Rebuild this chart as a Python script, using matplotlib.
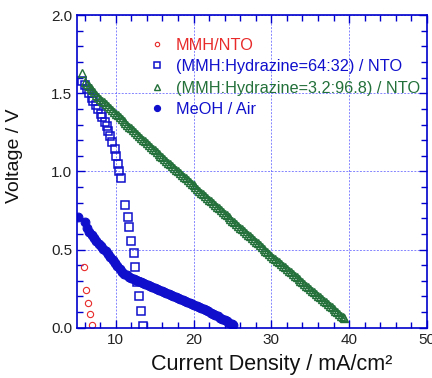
import numpy as np
import matplotlib.pyplot as plt
from matplotlib.ticker import MultipleLocator

plt.rcParams['font.family'] = ['Liberation Sans', 'DejaVu Sans']

# MMH / NTO
mmh_x = [5.94, 6.19, 6.45, 6.67, 6.96]
mmh_v = [0.388, 0.243, 0.158, 0.088, 0.015]

# (MMH:Hydrazine=64:32) / NTO
mix1_x = [5.68, 6.03, 6.32, 6.58, 6.88, 7.13, 7.44, 7.73, 8.04, 8.29, 8.59, 8.85,
          9.01, 9.31, 9.57, 9.87, 10.09, 10.30, 10.42, 10.73, 11.15, 11.58, 11.67,
          12.00, 12.35, 12.52, 12.75, 12.95, 13.20, 13.55]
mix1_v = [1.580, 1.550, 1.527, 1.500, 1.470, 1.450, 1.424, 1.397, 1.370, 1.346, 1.318, 1.290,
          1.260, 1.226, 1.190, 1.143, 1.098, 1.050, 1.000, 0.955, 0.785, 0.710, 0.642,
          0.556, 0.476, 0.390, 0.295, 0.203, 0.107, 0.013]

# (MMH:Hydrazine=3.2:96.8) / NTO
mix2_x = [5.68, 6.0, 6.25, 6.5, 6.75, 7.0, 7.25, 7.5, 7.75, 8.0, 8.25, 8.5, 8.75,
          9.0, 9.25, 9.5, 9.75, 10.0, 10.25, 10.5, 10.75, 11.0, 11.25, 11.5, 11.75,
          12.0, 12.25, 12.5, 12.75, 13.0, 13.25, 13.5, 13.75, 14.0, 14.25, 14.5, 14.75,
          15.0, 15.25, 15.5, 15.75, 16.0, 16.25, 16.5, 16.75, 17.0, 17.25, 17.5, 17.75,
          18.0, 18.25, 18.5, 18.75, 19.0, 19.25, 19.5, 19.75, 20.0, 20.25, 20.5, 20.75,
          21.0, 21.25, 21.5, 21.75, 22.0, 22.25, 22.5, 22.75, 23.0, 23.25, 23.5, 23.75,
          24.0, 24.25, 24.5, 24.75, 25.0, 25.25, 25.5, 25.75, 26.0, 26.25, 26.5, 26.75,
          27.0, 27.25, 27.5, 27.75, 28.0, 28.25, 28.5, 28.75, 29.0, 29.25, 29.5, 29.75,
          30.0, 30.25, 30.5, 30.75, 31.0, 31.25, 31.5, 31.75, 32.0, 32.25, 32.5, 32.75,
          33.0, 33.25, 33.5, 33.75, 34.0, 34.25, 34.5, 34.75, 35.0, 35.25, 35.5, 35.75,
          36.0, 36.25, 36.5, 36.75, 37.0, 37.25, 37.5, 37.75, 38.0, 38.25, 38.5, 38.75,
          39.0, 39.25, 39.4]
mix2_v = [1.630, 1.570, 1.558, 1.545, 1.533, 1.520, 1.506, 1.492, 1.479, 1.465, 1.453,
          1.441, 1.429, 1.418, 1.406, 1.394, 1.382, 1.370, 1.358, 1.346, 1.334, 1.323,
          1.311, 1.299, 1.287, 1.275, 1.263, 1.251, 1.239, 1.228, 1.216, 1.204, 1.192,
          1.180, 1.169, 1.158, 1.146, 1.135, 1.124, 1.113, 1.101, 1.090, 1.079, 1.068,
          1.056, 1.045, 1.034, 1.023, 1.011, 1.000, 0.989, 0.978, 0.966, 0.955, 0.944,
          0.933, 0.921, 0.910, 0.899, 0.888, 0.876, 0.865, 0.854, 0.843, 0.831, 0.820,
          0.809, 0.798, 0.786, 0.775, 0.764, 0.753, 0.741, 0.730, 0.719, 0.708, 0.696,
          0.685, 0.674, 0.663, 0.651, 0.640, 0.629, 0.618, 0.606, 0.595, 0.584, 0.573,
          0.561, 0.550, 0.539, 0.528, 0.516, 0.505, 0.494, 0.483, 0.471, 0.460, 0.449,
          0.439, 0.428, 0.418, 0.407, 0.396, 0.386, 0.375, 0.364, 0.354, 0.343, 0.333,
          0.322, 0.311, 0.301, 0.290, 0.279, 0.269, 0.258, 0.248, 0.237, 0.226, 0.216,
          0.205, 0.194, 0.184, 0.173, 0.163, 0.152, 0.141, 0.131, 0.120, 0.109, 0.099,
          0.088, 0.078, 0.068, 0.060]

# MeOH / Air
meoh_x = [5.2, 6.0, 6.3, 6.6, 6.9, 7.2, 7.5, 7.8, 8.1, 8.4, 8.7, 9.0, 9.3, 9.6, 9.9,
          10.2, 10.5, 10.8, 11.1, 11.4, 11.7, 12.0, 12.3, 12.6, 12.9, 13.2, 13.5,
          13.8, 14.1, 14.4, 14.7, 15.0, 15.3, 15.6, 15.9, 16.2, 16.5, 16.8, 17.1,
          17.4, 17.7, 18.0, 18.3, 18.6, 18.9, 19.2, 19.5, 19.8, 20.1, 20.4, 20.7,
          21.0, 21.3, 21.6, 21.9, 22.2, 22.5, 22.8, 23.1, 23.4, 23.7, 24.0, 24.3,
          24.6, 24.9, 25.1]
meoh_v = [0.706, 0.676, 0.640, 0.615, 0.593, 0.572, 0.553, 0.536, 0.520, 0.505, 0.489,
          0.472, 0.454, 0.435, 0.414, 0.394, 0.375, 0.359, 0.346, 0.335, 0.325, 0.317,
          0.310, 0.303, 0.297, 0.290, 0.284, 0.278, 0.272, 0.266, 0.261, 0.256, 0.249,
          0.242, 0.236, 0.230, 0.224, 0.218, 0.212, 0.205, 0.198, 0.191, 0.185, 0.179,
          0.173, 0.167, 0.160, 0.153, 0.146, 0.140, 0.134, 0.128, 0.120, 0.112, 0.104,
          0.097, 0.090, 0.083, 0.073, 0.065, 0.057, 0.048, 0.040, 0.030, 0.022, 0.015]

red = '#e82a2a'
blue = '#1010cc'
green = '#23703a'
axcol = '#0000cc'

fig = plt.figure(figsize=(4.32, 3.78), dpi=100)
ax = fig.add_axes([0.178, 0.133, 0.81, 0.827])

ax.plot(mmh_x, mmh_v, 'o', mfc='none', mec=red, ms=4.5, mew=0.8, label='MMH/NTO')
ax.plot(mix1_x, mix1_v, 's', mfc='none', mec=blue, ms=5.8, mew=1.1,
        label='(MMH:Hydrazine=64:32) / NTO')
ax.plot(mix2_x, mix2_v, '^', mfc='none', mec=green, ms=5.2, mew=1.0,
        label='(MMH:Hydrazine=3.2:96.8) / NTO')
ax.plot(meoh_x, meoh_v, 'o', mfc=blue, mec=blue, ms=6.3, mew=0.8, label='MeOH / Air')

ax.set_xlim(5, 50)
ax.set_ylim(0, 2.0)
ax.xaxis.set_minor_locator(MultipleLocator(2))
ax.yaxis.set_minor_locator(MultipleLocator(0.1))
ax.set_yticks([0, 0.5, 1.0, 1.5, 2.0])
ax.set_yticklabels(['0.0', '0.5', '1.0', '1.5', '2.0'])
ax.set_xticks([10, 20, 30, 40, 50])

ax.grid(True, which='major', color='#5050ff', linestyle=(0, (2, 1.5)), lw=0.7, alpha=0.7)
for s in ax.spines.values():
    s.set_color(axcol)
    s.set_linewidth(1.2)
ax.tick_params(which='both', direction='in', top=True, right=True, color=axcol,
               labelsize=11, labelcolor='#222222')
ax.tick_params(which='major', length=6, width=1)
ax.tick_params(which='minor', length=4, width=1)

ax.set_xlabel('Current Density / mA/cm²', fontsize=15.5, color='#111111')
ax.set_ylabel('Voltage / V', fontsize=14, color='#111111')
ax.xaxis.set_label_coords(0.557, -0.085)
ax.yaxis.set_label_coords(-0.155, 0.549)

leg = ax.legend(loc='upper left', bbox_to_anchor=(0.165, 0.975), frameon=False,
                fontsize=11.7, handlelength=0.9, handletextpad=0.75,
                labelspacing=0.4, markerscale=0.7)
for t, c in zip(leg.get_texts(), [red, blue, green, blue]):
    t.set_color(c)

fig.savefig('out.png', dpi=100)
